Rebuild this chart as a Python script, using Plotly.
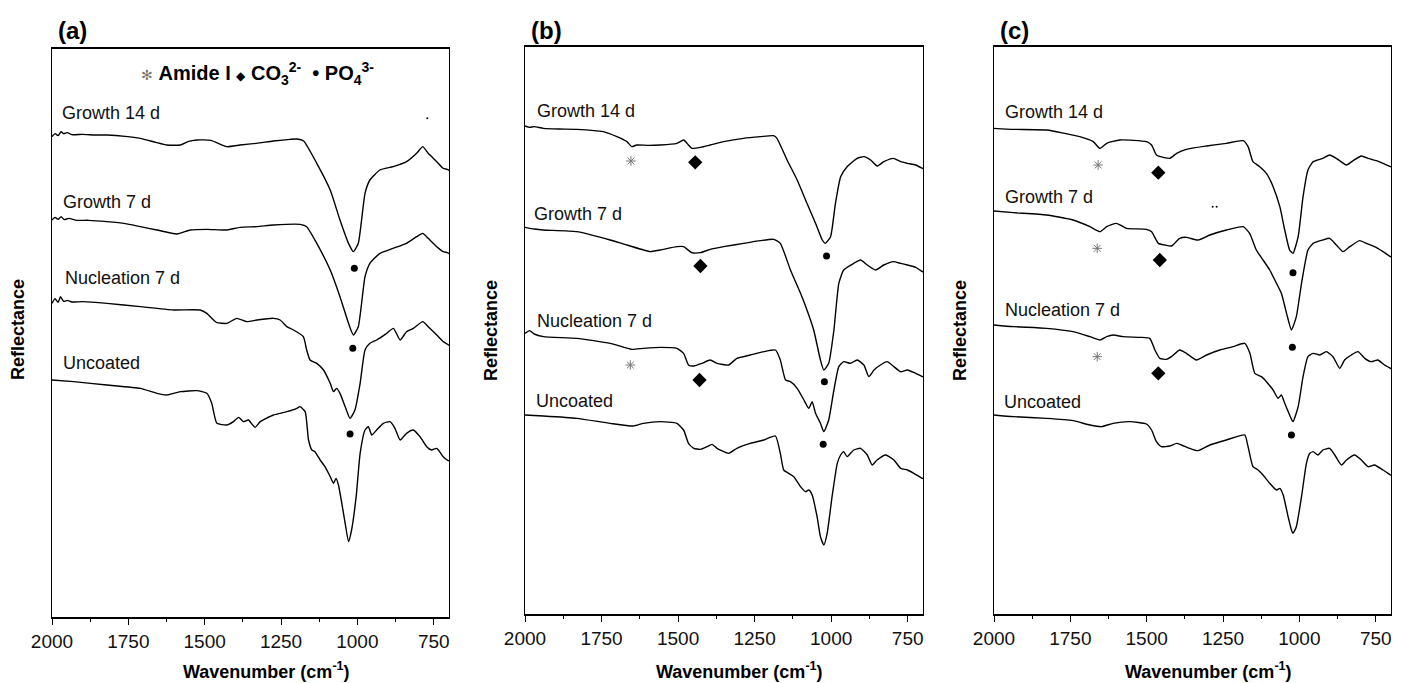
import plotly.graph_objects as go

# ---------------------------------------------------------------------------
# Data (wavenumber in cm-1, reflectance in arbitrary units, curves stacked)
# ---------------------------------------------------------------------------

CURVE_NAMES = ["Growth 14 d", "Growth 7 d", "Nucleation 7 d", "Uncoated"]
PANEL_TAGS = ["(a)", "(b)", "(c)"]
X_TICKS = [2000, 1750, 1500, 1250, 1000, 750]
X_MINOR = [1875, 1625, 1375, 1125, 875]

# panel (a)
A_G14_W = [2000, 1990, 1980, 1970, 1962, 1950, 1935, 1900, 1860, 1820, 1760, 1711, 1660, 1624,
           1580, 1555, 1526, 1480, 1427, 1384, 1330, 1275, 1220, 1198, 1176, 1133, 1089, 1057,
           1029, 1013, 997, 975, 959, 926, 883, 839, 806, 786, 768, 740, 719, 706, 700]
A_G14_R = [14.41, 14.50, 14.44, 14.56, 14.50, 14.53, 14.47, 14.48, 14.46, 14.46, 14.42, 14.36,
           14.24, 14.16, 14.16, 14.26, 14.31, 14.30, 14.11, 14.16, 14.21, 14.28, 14.33, 14.34,
           14.28, 13.61, 12.81, 11.91, 11.21, 10.96, 11.21, 12.71, 13.11, 13.41, 13.51, 13.66,
           13.91, 14.11, 13.91, 13.66, 13.46, 13.43, 13.40]

A_G7_W = [2000, 1990, 1980, 1970, 1960, 1945, 1920, 1880, 1820, 1760, 1711, 1656, 1591, 1547,
          1493, 1427, 1384, 1330, 1275, 1187, 1166, 1133, 1089, 1057, 1029, 1013, 997, 975, 959,
          926, 883, 839, 806, 786, 768, 740, 719, 706, 700]
A_G7_R = [11.91, 11.99, 11.93, 12.01, 11.92, 11.96, 11.90, 11.90, 11.86, 11.80, 11.71, 11.61,
          11.49, 11.61, 11.63, 11.61, 11.69, 11.71, 11.76, 11.78, 11.71, 11.21, 10.41, 9.61,
          8.81, 8.46, 8.71, 10.21, 10.61, 10.91, 11.06, 11.21, 11.41, 11.51, 11.36, 11.11,
          10.96, 10.93, 10.90]

A_NU_W = [2000, 1990, 1980, 1972, 1962, 1950, 1935, 1900, 1820, 1711, 1602, 1515, 1493, 1471,
          1460, 1427, 1395, 1362, 1329, 1275, 1253, 1231, 1209, 1177, 1166, 1155, 1133, 1111,
          1089, 1078, 1068, 1057, 1040, 1024, 1008, 991, 975, 959, 937, 904, 882, 860, 839,
          817, 786, 768, 740, 719, 706, 700]
A_NU_R = [9.41, 9.55, 9.44, 9.61, 9.47, 9.50, 9.45, 9.46, 9.41, 9.31, 9.21, 9.21, 9.11, 8.91,
          8.83, 8.81, 8.96, 8.86, 8.91, 8.96, 8.91, 8.71, 8.61, 8.41, 8.01, 7.71, 7.61, 7.41,
          7.01, 6.76, 6.86, 6.71, 6.31, 5.96, 6.21, 7.01, 8.01, 8.21, 8.31, 8.51, 8.66, 8.31,
          8.56, 8.66, 8.86, 8.71, 8.46, 8.26, 8.19, 8.15]

A_UN_W = [2000, 1929, 1820, 1711, 1656, 1624, 1580, 1526, 1493, 1477, 1460, 1427, 1406, 1389,
          1373, 1357, 1335, 1318, 1275, 1231, 1198, 1188, 1171, 1160, 1149, 1139, 1122, 1106,
          1089, 1078, 1070, 1062, 1051, 1040, 1029, 1019, 1004, 991, 975, 964, 953, 937, 915,
          893, 877, 860, 839, 817, 795, 773, 757, 740, 719, 706, 700]
A_UN_R = [7.11, 7.06, 6.96, 6.86, 6.71, 6.66, 6.76, 6.79, 6.71, 6.41, 5.81, 5.76, 5.86, 5.99,
          5.86, 5.91, 5.69, 5.86, 6.06, 6.16, 6.26, 6.31, 6.16, 5.31, 5.01, 4.96, 4.71, 4.51,
          4.21, 4.01, 4.16, 3.96, 3.41, 2.81, 2.26, 2.61, 3.61, 4.91, 5.61, 5.71, 5.46, 5.61,
          5.81, 5.86, 5.66, 5.31, 5.51, 5.61, 5.41, 5.11, 5.01, 5.06, 4.81, 4.71, 4.68]

# panel (b)
B_G14_W = [2000, 1985, 1970, 1940, 1890, 1831, 1744, 1700, 1667, 1651, 1635, 1600, 1558, 1504,
           1482, 1466, 1455, 1427, 1395, 1351, 1286, 1231, 1188, 1177, 1144, 1111, 1079, 1051,
           1029, 1019, 1002, 986, 969, 948, 915, 893, 871, 850, 828, 797, 773, 751, 724, 702, 700]
B_G14_R = [14.64, 14.60, 14.62, 14.57, 14.55, 14.54, 14.47, 14.32, 14.17, 14.02, 14.07, 14.06,
           14.07, 14.12, 14.22, 14.07, 13.97, 14.00, 14.07, 14.17, 14.27, 14.32, 14.35, 14.27,
           13.62, 13.02, 12.32, 11.72, 11.22, 11.12, 11.32, 12.32, 13.12, 13.42, 13.67, 13.72,
           13.62, 13.44, 13.57, 13.67, 13.57, 13.52, 13.47, 13.37, 13.36]

B_G7_W = [2000, 1970, 1940, 1831, 1722, 1667, 1613, 1591, 1558, 1504, 1482, 1455, 1427, 1395,
          1351, 1286, 1231, 1188, 1166, 1133, 1100, 1079, 1057, 1035, 1024, 1008, 991, 975, 959,
          926, 904, 882, 855, 828, 797, 773, 751, 724, 702, 700]
B_G7_R = [11.60, 11.55, 11.52, 11.47, 11.22, 11.07, 10.92, 10.87, 10.92, 11.02, 11.02, 10.84,
          10.84, 10.94, 11.02, 11.12, 11.20, 11.24, 11.12, 10.32, 9.62, 9.12, 8.52, 7.62, 7.32,
          7.52, 8.52, 9.92, 10.32, 10.52, 10.62, 10.47, 10.32, 10.47, 10.57, 10.52, 10.47,
          10.40, 10.27, 10.26]

B_NU_W = [2000, 1985, 1970, 1940, 1831, 1722, 1651, 1613, 1558, 1504, 1482, 1466, 1449, 1422,
          1395, 1373, 1335, 1308, 1264, 1220, 1182, 1166, 1149, 1133, 1111, 1089, 1073, 1062,
          1051, 1035, 1024, 1008, 991, 975, 959, 937, 915, 893, 877, 860, 839, 817, 795, 773,
          751, 724, 702, 700]
B_NU_R = [8.42, 8.50, 8.40, 8.32, 8.27, 8.12, 7.94, 7.97, 8.00, 7.97, 7.82, 7.47, 7.44, 7.52,
          7.62, 7.52, 7.47, 7.67, 7.77, 7.87, 7.92, 7.62, 7.02, 6.97, 6.77, 6.42, 6.17, 6.37,
          6.02, 5.72, 5.47, 5.82, 6.72, 7.42, 7.57, 7.52, 7.62, 7.47, 7.12, 7.32, 7.47, 7.57,
          7.42, 7.27, 7.32, 7.22, 7.12, 7.11]

B_UN_W = [2000, 1940, 1831, 1722, 1646, 1613, 1558, 1504, 1482, 1466, 1449, 1427, 1406, 1389,
          1373, 1335, 1308, 1264, 1220, 1182, 1166, 1155, 1139, 1122, 1100, 1084, 1073, 1062,
          1046, 1035, 1024, 1013, 997, 980, 969, 959, 948, 926, 904, 882, 866, 850, 822, 795,
          773, 751, 730, 702, 700]
B_UN_R = [5.97, 5.94, 5.87, 5.72, 5.64, 5.72, 5.77, 5.72, 5.52, 5.12, 4.97, 4.94, 5.02, 5.09,
          4.97, 4.82, 4.97, 5.12, 5.22, 5.34, 4.82, 4.32, 4.22, 4.12, 3.82, 3.67, 3.72, 3.57,
          2.92, 2.32, 2.07, 2.42, 3.52, 4.52, 4.77, 4.87, 4.72, 4.92, 4.97, 4.77, 4.47, 4.62,
          4.77, 4.62, 4.37, 4.32, 4.22, 4.07, 4.06]

# panel (c)
C_G14_W = [2000, 1937, 1828, 1719, 1675, 1653, 1631, 1588, 1501, 1484, 1468, 1446, 1424, 1402,
           1370, 1304, 1239, 1184, 1168, 1152, 1130, 1108, 1086, 1064, 1048, 1032, 1021, 1004,
           988, 972, 955, 923, 901, 879, 846, 824, 797, 775, 748, 726, 702, 700]
C_G14_R = [14.57, 14.54, 14.52, 14.32, 14.17, 13.97, 14.12, 14.22, 14.17, 14.07, 13.77, 13.70,
           13.67, 13.82, 13.94, 14.04, 14.12, 14.20, 14.02, 13.57, 13.42, 13.22, 12.82, 12.22,
           11.52, 10.92, 10.82, 11.32, 12.52, 13.32, 13.57, 13.67, 13.77, 13.67, 13.47, 13.60,
           13.74, 13.67, 13.60, 13.52, 13.42, 13.41]

C_G7_W = [2000, 1937, 1828, 1741, 1686, 1653, 1631, 1599, 1566, 1501, 1484, 1462, 1441, 1419,
          1392, 1370, 1332, 1293, 1239, 1184, 1163, 1141, 1119, 1097, 1075, 1059, 1042, 1026,
          1010, 993, 972, 955, 923, 901, 879, 857, 835, 803, 781, 754, 726, 702, 700]
C_G7_R = [12.09, 12.04, 11.97, 11.82, 11.62, 11.47, 11.62, 11.72, 11.57, 11.54, 11.47, 11.12,
          11.07, 11.04, 11.27, 11.30, 11.22, 11.37, 11.52, 11.62, 11.42, 10.92, 10.62, 10.32,
          9.92, 9.62, 9.02, 8.52, 8.92, 9.92, 10.92, 11.12, 11.22, 11.27, 11.07, 10.87, 11.02,
          11.20, 11.12, 11.02, 10.87, 10.72, 10.71]

C_NU_W = [2000, 1937, 1828, 1741, 1686, 1653, 1631, 1610, 1577, 1522, 1490, 1473, 1457, 1435,
          1419, 1392, 1370, 1337, 1304, 1261, 1217, 1179, 1162, 1146, 1124, 1108, 1086, 1070,
          1059, 1048, 1032, 1021, 1004, 988, 972, 955, 933, 912, 890, 868, 852, 830, 808, 786,
          765, 743, 721, 702, 700]
C_NU_R = [8.67, 8.62, 8.57, 8.47, 8.32, 8.22, 8.32, 8.37, 8.32, 8.30, 8.27, 7.92, 7.67, 7.64,
          7.72, 7.92, 7.82, 7.62, 7.77, 7.92, 8.02, 8.12, 7.82, 7.22, 7.12, 6.97, 6.72, 6.47,
          6.57, 6.32, 5.97, 5.77, 6.22, 7.12, 7.72, 7.82, 7.77, 7.87, 7.72, 7.37, 7.62, 7.77,
          7.87, 7.67, 7.57, 7.62, 7.47, 7.37, 7.36]

C_UN_W = [2000, 1937, 1828, 1741, 1686, 1648, 1610, 1555, 1501, 1484, 1468, 1452, 1424, 1402,
          1386, 1359, 1332, 1293, 1239, 1179, 1168, 1152, 1135, 1119, 1097, 1075, 1064, 1053,
          1037, 1026, 1021, 1010, 993, 977, 966, 955, 939, 923, 901, 884, 862, 846, 819, 797,
          775, 754, 726, 702, 700]
C_UN_R = [5.97, 5.92, 5.87, 5.80, 5.67, 5.62, 5.72, 5.77, 5.70, 5.52, 5.17, 5.02, 5.04, 5.12,
          5.07, 4.97, 4.90, 5.07, 5.22, 5.37, 5.02, 4.42, 4.32, 4.17, 3.92, 3.72, 3.77, 3.57,
          2.92, 2.52, 2.42, 2.62, 3.52, 4.52, 4.82, 4.87, 4.77, 4.92, 4.97, 4.77, 4.47, 4.62,
          4.77, 4.62, 4.42, 4.47, 4.32, 4.17, 4.16]

# curve label anchor (wavenumber of left edge, reflectance)
A_LABEL_W = [1973, 1971, 1965, 1971]
A_LABEL_R = [15.11, 12.44, 10.16, 7.61]
B_LABEL_W = [1967, 1978, 1967, 1971]
B_LABEL_R = [15.09, 11.99, 8.79, 6.39]
C_LABEL_W = [1972, 1972, 1972, 1975]
C_LABEL_R = [15.07, 12.52, 9.12, 6.37]

# band markers: amide I (*), carbonate (diamond), phosphate (dot)
A_AMIDE_W, A_AMIDE_R = [], []
A_CO3_W, A_CO3_R = [], []
A_PO4_W = [1010, 1015, 1024]
A_PO4_R = [10.46, 8.06, 5.49]
B_AMIDE_W = [1654, 1656]
B_AMIDE_R = [13.59, 7.47]
B_CO3_W = [1444, 1427, 1430]
B_CO3_R = [13.55, 10.44, 7.02]
B_PO4_W = [1015, 1022, 1026]
B_PO4_R = [10.74, 6.97, 5.09]
C_AMIDE_W = [1659, 1662, 1662]
C_AMIDE_R = [13.47, 10.97, 7.72]
C_CO3_W = [1462, 1457, 1462]
C_CO3_R = [13.24, 10.62, 7.22]
C_PO4_W = [1021, 1023, 1026]
C_PO4_R = [10.24, 8.00, 5.37]

# stray specks in the scanned figure
A_SPECK_W, A_SPECK_R = [771], [14.96]
C_SPECK_W, C_SPECK_R = [1284, 1271], [12.22, 12.22]

FONT = "Arial, Liberation Sans, Helvetica, sans-serif"
W, H = 1408, 683

# panel boxes in pixels: left, right, top, bottom
BOXES = [(52, 449, 49, 617), (525, 923, 47, 614), (994, 1391, 47, 614)]
Y_TOPS = [17.04, 17.01, 17.01]

panels = [
    dict(curves=[(A_G14_W, A_G14_R), (A_G7_W, A_G7_R), (A_NU_W, A_NU_R), (A_UN_W, A_UN_R)],
         labels=(A_LABEL_W, A_LABEL_R), amide=(A_AMIDE_W, A_AMIDE_R), co3=(A_CO3_W, A_CO3_R),
         po4=(A_PO4_W, A_PO4_R), speck=(A_SPECK_W, A_SPECK_R)),
    dict(curves=[(B_G14_W, B_G14_R), (B_G7_W, B_G7_R), (B_NU_W, B_NU_R), (B_UN_W, B_UN_R)],
         labels=(B_LABEL_W, B_LABEL_R), amide=(B_AMIDE_W, B_AMIDE_R), co3=(B_CO3_W, B_CO3_R),
         po4=(B_PO4_W, B_PO4_R), speck=([], [])),
    dict(curves=[(C_G14_W, C_G14_R), (C_G7_W, C_G7_R), (C_NU_W, C_NU_R), (C_UN_W, C_UN_R)],
         labels=(C_LABEL_W, C_LABEL_R), amide=(C_AMIDE_W, C_AMIDE_R), co3=(C_CO3_W, C_CO3_R),
         po4=(C_PO4_W, C_PO4_R), speck=(C_SPECK_W, C_SPECK_R)),
]

fig = go.Figure()
annotations = []
layout_axes = {}

for i, (p, box) in enumerate(zip(panels, BOXES)):
    n = "" if i == 0 else str(i + 1)
    xref, yref = "x" + n, "y" + n
    left, right, top, bottom = box

    for wn, rf in p["curves"]:
        fig.add_trace(go.Scatter(
            x=wn, y=rf, mode="lines", xaxis=xref, yaxis=yref,
            line=dict(color="black", width=1.4, shape="spline", smoothing=0.5),
            hoverinfo="skip", showlegend=False,
        ))

    fig.add_trace(go.Scatter(
        x=p["amide"][0], y=p["amide"][1], mode="markers", xaxis=xref, yaxis=yref,
        marker=dict(symbol="asterisk-open", size=8, color="#777", line=dict(color="#777", width=1)),
        showlegend=False, hoverinfo="skip",
    ))
    fig.add_trace(go.Scatter(
        x=p["co3"][0], y=p["co3"][1], mode="markers", xaxis=xref, yaxis=yref,
        marker=dict(symbol="diamond", size=11, color="black"),
        showlegend=False, hoverinfo="skip",
    ))
    fig.add_trace(go.Scatter(
        x=p["po4"][0], y=p["po4"][1], mode="markers", xaxis=xref, yaxis=yref,
        marker=dict(symbol="circle", size=7, color="black"),
        showlegend=False, hoverinfo="skip",
    ))
    fig.add_trace(go.Scatter(
        x=p["speck"][0], y=p["speck"][1], mode="markers", xaxis=xref, yaxis=yref,
        marker=dict(symbol="circle", size=2, color="black"),
        showlegend=False, hoverinfo="skip",
    ))

    for name, lw, lr in zip(CURVE_NAMES, *p["labels"]):
        annotations.append(dict(
            x=lw, y=lr, xref=xref, yref=yref, text=name, showarrow=False,
            xanchor="left", yanchor="middle", font=dict(size=18, color="#111", family=FONT),
        ))

    layout_axes["xaxis" + n] = dict(
        domain=[left / W, right / W], anchor=yref, range=[2000, 700], automargin=False,
        tickvals=X_TICKS, ticks="outside", ticklen=6, tickwidth=1, tickcolor="black",
        minor=dict(tickvals=X_MINOR, ticks="outside", ticklen=3, tickcolor="black"),
        showline=True, linecolor="black", linewidth=1.5, mirror=True,
        showgrid=False, zeroline=False,
        tickfont=dict(size=19, color="#111", family=FONT),
    )
    layout_axes["yaxis" + n] = dict(
        domain=[(H - bottom) / H, (H - top) / H], anchor=xref, range=[0, Y_TOPS[i]],
        automargin=False, showticklabels=False, ticks="", showline=True, linecolor="black",
        linewidth=1.2, mirror=True, showgrid=False, zeroline=False,
    )

    # panel tag, axis titles
    annotations.append(dict(
        x=(left + 4) / W, y=(H - 31) / H, xref="paper", yref="paper", text="<b>%s</b>" % PANEL_TAGS[i],
        showarrow=False, xanchor="left", yanchor="middle", font=dict(size=24, color="black", family=FONT),
    ))
    annotations.append(dict(
        x=((left + right) / 2 + 16) / W, y=(H - 670) / H, xref="paper", yref="paper",
        text="<b>Wavenumber (cm<sup>-1</sup>)</b>", showarrow=False, xanchor="center", yanchor="middle",
        font=dict(size=18, color="black", family=FONT),
    ))
    annotations.append(dict(
        x=(left - 34) / W, y=(H - 330) / H, xref="paper", yref="paper", text="<b>Reflectance</b>",
        showarrow=False, textangle=-90, xanchor="center", yanchor="middle",
        font=dict(size=18, color="black", family=FONT),
    ))

# legend line in panel (a)
annotations.append(dict(
    x=257 / W, y=(H - 73) / H, xref="paper", yref="paper", showarrow=False,
    xanchor="center", yanchor="middle", font=dict(size=20, color="black", family=FONT),
    text="<span style='color:#777;font-size:14px'>✻</span> <b>Amide I</b> "
         "<span style='font-size:12px'>◆</span> <b>CO<sub>3</sub><sup>2-</sup></b> "
         " <b>• PO<sub>4</sub><sup>3-</sup></b>",
))

fig.update_layout(
    width=W, height=H, margin=dict(l=0, r=0, t=0, b=0, autoexpand=False),
    paper_bgcolor="white", plot_bgcolor="white",
    showlegend=False, annotations=annotations, **layout_axes,
)

# the page body has a default 8px margin; drop it so the figure fills the window
fig.write_html("out.html", config={"displayModeBar": False},
               post_script="document.body.style.margin = '0';")
